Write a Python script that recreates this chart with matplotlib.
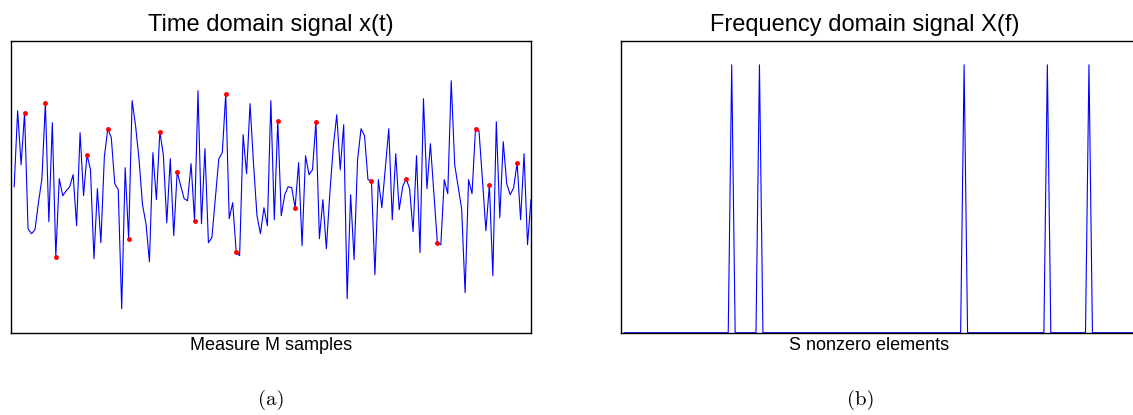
import matplotlib.pyplot as plt
import numpy as np

# time signal, samples 1..150
x_t = [0.00, 0.76, 0.22, 0.74, -0.42, -0.47, -0.43, -0.16, 0.08, 0.84,
       -0.35, 0.64, -0.70, 0.08, -0.09, -0.04, 0.00, 0.12, -0.39, 0.54,
       -0.09, 0.32, 0.17, -0.72, -0.02, -0.56, 0.30, 0.58, 0.49, 0.03,
       -0.03, -1.22, 0.19, -0.52, 0.86, 0.61, 0.27, -0.18, -0.37, -0.75,
       0.34, -0.13, 0.55, 0.32, -0.36, 0.28, -0.49, 0.15, 0.01, -0.12,
       -0.14, 0.23, -0.34, 0.96, -0.37, 0.38, -0.56, -0.51, -0.12, 0.28,
       0.34, 0.93, -0.32, -0.16, -0.65, -0.69, 0.52, 0.13, 0.83, 0.23,
       -0.29, -0.47, -0.21, -0.39, 0.86, -0.33, 0.66, -0.29, -0.08, 0.00,
       -0.01, -0.21, 0.24, -0.59, 0.31, 0.12, 0.17, 0.65, -0.52, -0.13,
       -0.62, -0.07, 0.40, 0.72, 0.17, 0.62, -1.12, -0.08, -0.73, 0.27,
       0.58, 0.51, 0.07, 0.06, -0.88, 0.07, -0.21, 0.18, 0.58, -0.33,
       0.33, -0.23, 0.00, 0.08, -0.02, -0.45, 0.31, -0.66, 0.88, -0.02,
       0.43, -0.07, -0.56, -0.58, 0.07, -0.07, 1.06, 0.22, 0.00, -0.22,
       -1.06, 0.07, -0.07, 0.58, 0.56, 0.07, -0.44, 0.02, -0.89, 0.65,
       -0.31, 0.45, 0.03, -0.08, -0.01, 0.24, -0.33, 0.33, -0.58, -0.13]

# measured samples (red dots)
sample_idx = [4, 10, 13, 22, 28, 34, 43, 48, 53, 62, 65, 77, 82, 88,
              104, 114, 123, 134, 138, 146]

# nonzero frequency bins and their heights
freq_bins = [32, 40, 99, 123, 135]
freq_vals = [1.0, 1.0, 1.0, 1.0, 1.0]

n = len(x_t)
t = np.arange(1, n + 1)
x_t = np.array(x_t)
X_f = np.zeros(n)
X_f[np.array(freq_bins) - 1] = freq_vals

fig = plt.figure(figsize=(11.33, 4.15), dpi=100)
sans = 'Liberation Sans'

ax1 = fig.add_axes([10.7 / 1133, 82.3 / 415, 520.3 / 1133, 292 / 415])
ax1.plot(t, x_t, color='blue', lw=0.8)
ax1.plot(sample_idx, x_t[np.array(sample_idx) - 1], 'o', color='red', ms=2.5)
ax1.set_xlim(0, n)
ax1.set_ylim(-1.46, 1.46)
ax1.set_title('Time domain signal x(t)', fontsize=17, family=sans, pad=7)
ax1.set_xlabel('Measure M samples', fontsize=13, family=sans, labelpad=3)

ax2 = fig.add_axes([620.7 / 1133, 82.3 / 415, 520.3 / 1133, 292 / 415])
ax2.plot(t, X_f, color='blue', lw=0.8, clip_on=False)
ax2.set_xlim(0, n)
ax2.set_ylim(0, 1.09)
ax2.set_title('Frequency domain signal X(f)', fontsize=17, family=sans, pad=7, x=0.47)
ax2.set_xlabel('S nonzero elements', fontsize=13, family=sans, labelpad=3, x=0.477)

for ax in (ax1, ax2):
    ax.set_xticks([])
    ax.set_yticks([])
    for s in ax.spines.values():
        s.set_linewidth(1.0)

fig.text(270.8 / 1133, 1 - 400 / 415, '(a)', fontsize=15, family='cmr10',
         ha='center', va='center')
fig.text(861 / 1133, 1 - 400 / 415, '(b)', fontsize=15, family='cmr10',
         ha='center', va='center')

fig.savefig('out.png', dpi=100)
